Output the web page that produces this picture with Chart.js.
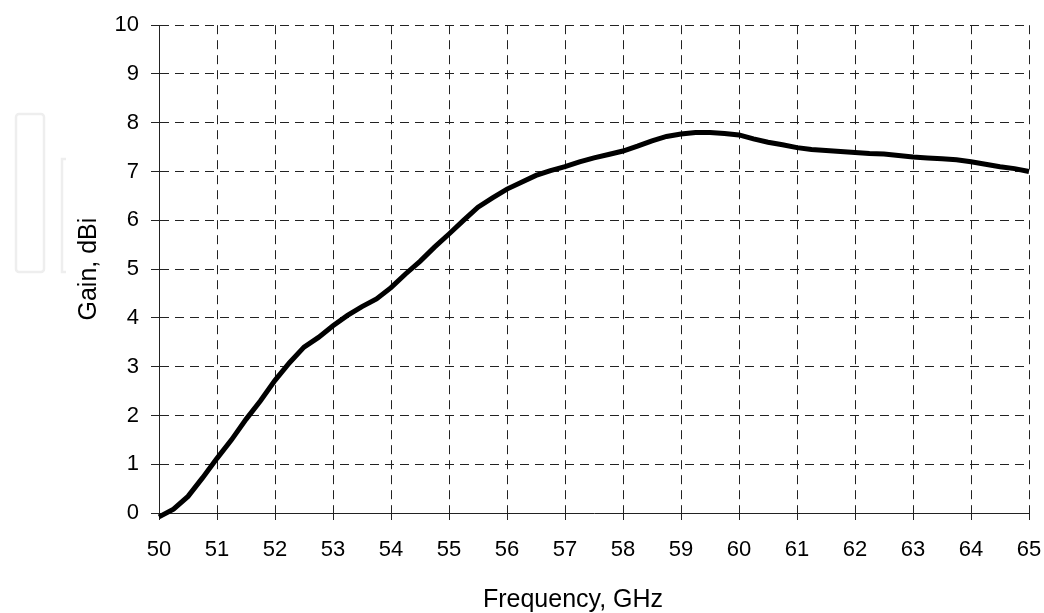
<!DOCTYPE html>
<html>
<head>
<meta charset="utf-8">
<script src="https://cdn.jsdelivr.net/npm/chart.js@4/dist/chart.umd.min.js"></script>
<style>
  html, body { margin: 0; padding: 0; background: #fff; }
  #wrap { width: 1044px; height: 613px; position: relative; }
</style>
</head>
<body>
<div id="wrap"><canvas id="c" width="1044" height="613"></canvas></div>
<script>
// Frequency (GHz)
const freq = [
  50.0, 50.25, 50.5, 50.75, 51.0, 51.25, 51.5, 51.75, 52.0, 52.25, 52.5, 52.75,
  53.0, 53.25, 53.5, 53.75, 54.0, 54.25, 54.5, 54.75, 55.0, 55.25, 55.5, 55.75,
  56.0, 56.25, 56.5, 56.75, 57.0, 57.25, 57.5, 57.75, 58.0, 58.25, 58.5, 58.75,
  59.0, 59.25, 59.5, 59.75, 60.0, 60.25, 60.5, 60.75, 61.0, 61.25, 61.5, 61.75,
  62.0, 62.25, 62.5, 62.75, 63.0, 63.25, 63.5, 63.75, 64.0, 64.25, 64.5, 64.75, 65.0
];
// Gain (dBi)
const gain = [
  -0.08, 0.08, 0.34, 0.72, 1.12, 1.50, 1.92, 2.30, 2.72, 3.08, 3.40, 3.60,
  3.84, 4.05, 4.23, 4.39, 4.62, 4.90, 5.16, 5.45, 5.72, 6.00, 6.27, 6.46,
  6.64, 6.78, 6.92, 7.02, 7.10, 7.20, 7.28, 7.35, 7.42, 7.52, 7.63, 7.72,
  7.77, 7.80, 7.80, 7.78, 7.75, 7.67, 7.60, 7.55, 7.49, 7.45, 7.43, 7.41,
  7.39, 7.37, 7.36, 7.33, 7.30, 7.28, 7.26, 7.24, 7.20, 7.15, 7.10, 7.06, 7.00
];
const xTitle = 'Frequency, GHz';
const yTitle = 'Gain, dBi';

const points = freq.map((f, i) => ({ x: f, y: gain[i] }));

const fontFamily = '"Liberation Sans", Arial, sans-serif';

const watermark = {
  id: 'watermark',
  beforeDraw(chart) {
    const ctx = chart.ctx;
    ctx.save();
    ctx.strokeStyle = '#eeeeee';
    ctx.lineWidth = 2.5;
    ctx.beginPath();
    ctx.roundRect(16, 114, 28, 158, 3);
    ctx.stroke();
    ctx.beginPath();
    ctx.moveTo(66, 159);
    ctx.lineTo(62, 159);
    ctx.lineTo(62, 272);
    ctx.lineTo(66, 272);
    ctx.stroke();
    ctx.restore();
  }
};

// x-axis title, placed as in the reference (slightly left of the plot centre)
const xTitlePlugin = {
  id: 'xTitlePlugin',
  afterDraw(chart) {
    const ctx = chart.ctx;
    const area = chart.chartArea;
    ctx.save();
    ctx.font = '25px ' + fontFamily;
    ctx.fillStyle = '#000';
    ctx.textAlign = 'center';
    ctx.textBaseline = 'alphabetic';
    ctx.fillText(xTitle, (area.left + area.right) / 2 - 21, 607);
    ctx.restore();
  }
};

new Chart(document.getElementById('c'), {
  type: 'line',
  data: {
    datasets: [{
      data: points,
      borderColor: '#000',
      borderWidth: 5,
      pointRadius: 0,
      tension: 0,
      fill: false,
      clip: false
    }]
  },
  options: {
    responsive: false,
    animation: false,
    devicePixelRatio: 1,
    layout: { padding: { top: 23, right: 15, left: 0, bottom: 0 } },
    plugins: { legend: { display: false }, tooltip: { enabled: false } },
    scales: {
      x: {
        type: 'linear',
        min: 50, max: 65,
        afterFit(scale) { scale.height = 100; scale.paddingRight = 0; scale.paddingLeft = 0; },
        ticks: { stepSize: 1, color: '#000', padding: 17, font: { family: fontFamily, size: 22 } },
        grid: { color: '#222', lineWidth: 1, tickLength: 7, tickColor: '#222' },
        border: { color: '#222', width: 1, dash: [9, 6] },
        title: { display: false }
      },
      y: {
        type: 'linear',
        min: 0, max: 10,
        afterFit(scale) { scale.width = 159; },
        ticks: { stepSize: 1, color: '#000', padding: 12, font: { family: fontFamily, size: 22 } },
        grid: { color: '#222', lineWidth: 1, tickLength: 8, tickColor: '#222' },
        border: { color: '#222', width: 1, dash: [9, 6] },
        title: { display: true, text: yTitle, color: '#000', font: { family: fontFamily, size: 25 }, padding: { top: 74, bottom: 0 } }
      }
    }
  },
  plugins: [watermark, xTitlePlugin]
});
</script>
</body>
</html>
